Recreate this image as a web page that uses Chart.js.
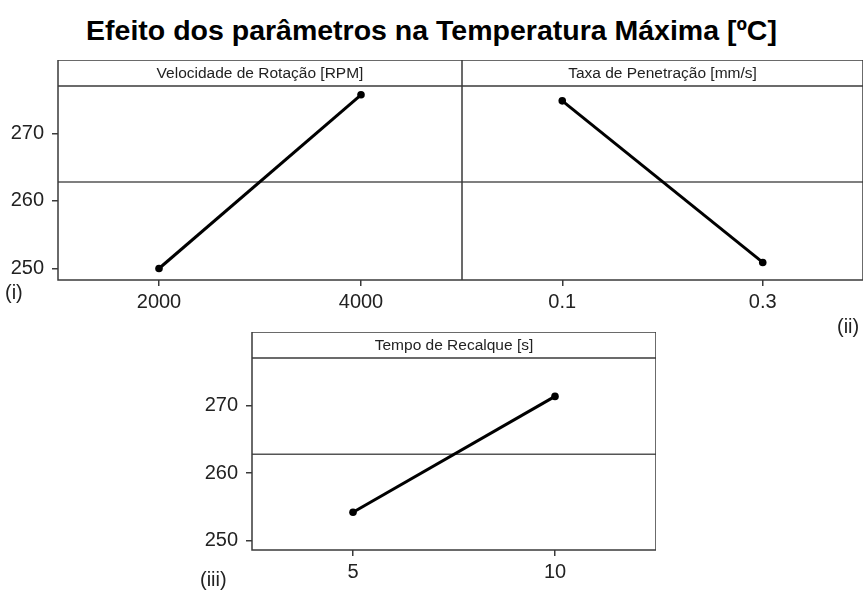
<!DOCTYPE html>
<html>
<head>
<meta charset="utf-8">
<script src="https://cdn.jsdelivr.net/npm/chart.js@4/dist/chart.umd.min.js"></script>
<style>
  html, body { margin: 0; padding: 0; background: #ffffff; }
  body { width: 863px; height: 599px; position: relative; overflow: hidden; font-family: "Liberation Sans", Arial, sans-serif; }
  .panel { position: absolute; }
  .title { position: absolute; left: 0; width: 863px; top: 14px; text-align: center; font-weight: bold; font-size: 28.5px; color: #000; }
  .tag { position: absolute; font-size: 20px; color: #222; }
</style>
</head>
<body>
<div class="title">Efeito dos parâmetros na Temperatura Máxima [ºC]</div>

<div class="panel" style="left:0px; top:60px; width:462px; height:260px;"><canvas id="c1"></canvas></div>
<div class="panel" style="left:462px; top:60px; width:402px; height:260px;"><canvas id="c2"></canvas></div>
<div class="panel" style="left:194px; top:332px; width:462px; height:258px;"><canvas id="c3"></canvas></div>

<div class="tag" style="left:5px; top:281px;">(i)</div>
<div class="tag" style="left:837px; top:315px;">(ii)</div>
<div class="tag" style="left:200px; top:568px;">(iii)</div>

<script>
// Main effects on maximum temperature [ºC]: factor levels and the mean response at each level
const speedLevels = [2000, 4000];
const speedMeans  = [250.0, 275.7];

const rateLevels  = [0.1, 0.3];
const rateMeans   = [274.8, 250.9];

const timeLevels  = [5, 10];
const timeMeans   = [254.2, 271.4];

const grandMean   = 262.8;
const yTickValues = [250, 260, 270];

const speedTitle = 'Velocidade de Rotação [RPM]';
const rateTitle  = 'Taxa de Penetração [mm/s]';
const timeTitle  = 'Tempo de Recalque [s]';

const FRAME = '#3a3a3a';
const TEXT  = '#222222';
const HEADER_H = 26;
const FONT_FAMILY = '"Liberation Sans", Arial, sans-serif';

// Frame around the panel with a header strip holding the factor name
const stripPlugin = {
  id: 'strip',
  afterDraw(chart, args, opts) {
    const { ctx, chartArea: a } = chart;
    const top = a.top - HEADER_H;
    ctx.save();
    ctx.strokeStyle = FRAME;
    ctx.lineWidth = 1.5;
    ctx.strokeRect(a.left, top, a.right - a.left, a.bottom - top);
    ctx.beginPath();
    ctx.moveTo(a.left, a.top);
    ctx.lineTo(a.right, a.top);
    ctx.stroke();
    ctx.fillStyle = TEXT;
    ctx.font = '15.5px ' + FONT_FAMILY;
    ctx.textAlign = 'center';
    ctx.textBaseline = 'middle';
    ctx.fillText(opts.text, (a.left + a.right) / 2, top + HEADER_H / 2 + 1);
    ctx.restore();
  }
};

function makePanel(id, levels, means, xMin, xMax, yMin, yMax, title, showY, padRight) {
  const effect = levels.map((x, i) => ({ x: x, y: means[i] }));
  const meanLine = [{ x: xMin, y: grandMean }, { x: xMax, y: grandMean }];
  return new Chart(document.getElementById(id), {
    type: 'scatter',
    data: {
      datasets: [
        {
          data: meanLine,
          showLine: true,
          borderColor: '#555555',
          borderWidth: 1.5,
          pointRadius: 0,
          order: 2
        },
        {
          data: effect,
          showLine: true,
          borderColor: '#000000',
          backgroundColor: '#000000',
          borderWidth: 3,
          pointRadius: 3.8,
          pointBackgroundColor: '#000000',
          pointBorderWidth: 0,
          order: 1
        }
      ]
    },
    options: {
      responsive: true,
      maintainAspectRatio: false,
      animation: false,
      layout: { autoPadding: false, padding: { top: HEADER_H, left: 0, right: padRight, bottom: 0 } },
      plugins: {
        legend: { display: false },
        tooltip: { enabled: false },
        strip: { text: title }
      },
      scales: {
        x: {
          type: 'linear',
          min: xMin,
          max: xMax,
          afterBuildTicks: s => { s.ticks = levels.map(v => ({ value: v })); },
          afterFit: s => { s.height = 40; s.paddingLeft = 0; s.paddingRight = 0; },
          grid: { drawOnChartArea: false, drawTicks: true, tickLength: 6, color: FRAME, lineWidth: 1.5 },
          border: { display: false },
          ticks: { color: TEXT, padding: 4, font: { size: 20, family: FONT_FAMILY }, callback: v => String(v), maxRotation: 0 }
        },
        y: {
          display: showY,
          min: yMin,
          max: yMax,
          afterBuildTicks: s => { s.ticks = yTickValues.map(v => ({ value: v })); },
          afterFit: s => { if (showY) { s.width = 58; } },
          grid: { drawOnChartArea: false, drawTicks: true, tickLength: 6, color: FRAME, lineWidth: 1.5 },
          border: { display: false },
          ticks: { color: TEXT, padding: 8, font: { size: 20, family: FONT_FAMILY } }
        }
      }
    },
    plugins: [stripPlugin]
  });
}

makePanel('c1', speedLevels, speedMeans, 1000, 5000, 248.3, 277.0, speedTitle, true, 0);
makePanel('c2', rateLevels, rateMeans, 0, 0.4, 248.3, 277.0, rateTitle, false, 1);
makePanel('c3', timeLevels, timeMeans, 2.5, 12.5, 248.6, 277.1, timeTitle, true, 0);
</script>
</body>
</html>
